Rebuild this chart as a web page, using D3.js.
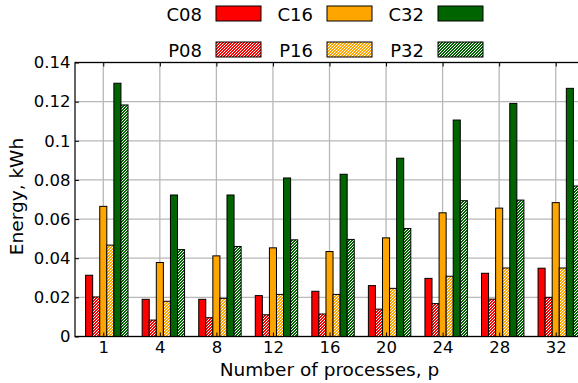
<!DOCTYPE html>
<html>
<head>
<meta charset="utf-8">
<script src="https://cdn.jsdelivr.net/npm/d3@7"></script>
<style>
  html, body { margin: 0; padding: 0; background: #fff; }
  svg { display: block; font-family: "DejaVu Sans", sans-serif; }
</style>
</head>
<body>
<svg id="chart" width="578" height="383"></svg>
<script>
// Number of processes (x categories)
const processes = ["1", "4", "8", "12", "16", "20", "24", "28", "32"];

// Energy per configuration, kWh
const C08 = [0.0313, 0.0190, 0.0190, 0.0209, 0.0231, 0.0260, 0.0297, 0.0323, 0.0349];
const P08 = [0.0202, 0.0084, 0.0096, 0.0111, 0.0115, 0.0140, 0.0168, 0.0191, 0.0200];
const C16 = [0.0665, 0.0378, 0.0412, 0.0453, 0.0434, 0.0504, 0.0632, 0.0656, 0.0684];
const P16 = [0.0467, 0.0180, 0.0195, 0.0215, 0.0215, 0.0246, 0.0308, 0.0350, 0.0350];
const C32 = [0.1294, 0.0723, 0.0723, 0.0810, 0.0829, 0.0911, 0.1106, 0.1191, 0.1268];
const P32 = [0.1183, 0.0444, 0.0460, 0.0494, 0.0496, 0.0552, 0.0694, 0.0697, 0.0769];

const yTicks = [0, 0.02, 0.04, 0.06, 0.08, 0.1, 0.12, 0.14];
const yTickLabels = ["0", "0.02", "0.04", "0.06", "0.08", "0.1", "0.12", "0.14"];

const series = [
  { name: "C08", values: C08, color: "#ff0000", hatch: false },
  { name: "P08", values: P08, color: "#ff0000", hatch: true },
  { name: "C16", values: C16, color: "#ffa500", hatch: false },
  { name: "P16", values: P16, color: "#ffa500", hatch: true },
  { name: "C32", values: C32, color: "#006400", hatch: false },
  { name: "P32", values: P32, color: "#006400", hatch: true }
];

const svg = d3.select("#chart");
const plotLeft = 75, plotRight = 584, plotTop = 62.5, plotBottom = 336.5;

const x = d3.scalePoint().domain(processes).range([plotLeft, plotRight]).padding(0.5);
const y = d3.scaleLinear().domain([0, 0.14]).range([plotBottom, plotTop]);
const barW = x.step() / 8;

// Hatch patterns for the P* series
const defs = svg.append("defs");
series.filter(s => s.hatch).forEach(s => {
  const p = defs.append("pattern")
    .attr("id", "hatch-" + s.name)
    .attr("patternUnits", "userSpaceOnUse")
    .attr("width", 3).attr("height", 3);
  p.append("rect").attr("width", 3).attr("height", 3).attr("fill", s.color);
  p.append("path")
    .attr("d", "M-1,1 L1,-1 M0,3 L3,0 M2,4 L4,2")
    .attr("stroke", "#fff").attr("stroke-width", 1.0);
});
const fillOf = s => s.hatch ? `url(#hatch-${s.name})` : s.color;

// Grid
const grid = svg.append("g");
grid.selectAll("line.gy").data(yTicks).join("line")
  .attr("x1", plotLeft).attr("x2", plotRight)
  .attr("y1", d => y(d)).attr("y2", d => y(d))
  .attr("stroke", "#b8b8b8").attr("stroke-width", 1.3);
grid.selectAll("line.gx").data(processes).join("line")
  .attr("x1", d => x(d)).attr("x2", d => x(d))
  .attr("y1", plotTop).attr("y2", plotBottom)
  .attr("stroke", "#b8b8b8").attr("stroke-width", 1.3);

// Bars
series.forEach((s, i) => {
  svg.append("g").selectAll("rect").data(s.values).join("rect")
    .attr("x", (d, j) => x(processes[j]) + (i - 2.5) * barW)
    .attr("y", d => y(d))
    .attr("width", barW)
    .attr("height", d => y(0) - y(d))
    .attr("fill", fillOf(s))
    .attr("stroke", "#000").attr("stroke-width", 1);
});

// Axes frame
svg.append("rect")
  .attr("x", plotLeft).attr("y", plotTop)
  .attr("width", plotRight - plotLeft).attr("height", plotBottom - plotTop)
  .attr("fill", "none").attr("stroke", "#000").attr("stroke-width", 1.2);

// Inward ticks
const yAxis = d3.axisLeft(y).tickValues(yTicks)
  .tickFormat((d, i) => yTickLabels[i]).tickSizeInner(-4).tickSizeOuter(0).tickPadding(4.5);
const gy = svg.append("g").attr("transform", `translate(${plotLeft},0)`).call(yAxis);
gy.select(".domain").remove();
gy.selectAll("text").attr("font-size", 16.5).attr("fill", "#000")
  .attr("font-family", "DejaVu Sans, sans-serif");

const xAxis = d3.axisBottom(x).tickSizeInner(-4).tickSizeOuter(0).tickPadding(4.5);
const gx = svg.append("g").attr("transform", `translate(0,${plotBottom})`).call(xAxis);
gx.select(".domain").remove();
gx.selectAll("text").attr("font-size", 16.5).attr("fill", "#000")
  .attr("font-family", "DejaVu Sans, sans-serif");

const xTop = d3.axisTop(x).tickSizeInner(-4).tickSizeOuter(0).tickFormat("");
const gxt = svg.append("g").attr("transform", `translate(0,${plotTop})`).call(xTop);
gxt.select(".domain").remove();

// Axis titles
svg.append("text")
  .attr("x", (plotLeft + plotRight) / 2).attr("y", 375.5)
  .attr("text-anchor", "middle").attr("font-size", 18.5)
  .text("Number of processes, p");
svg.append("text")
  .attr("transform", `translate(23,${(plotTop + plotBottom) / 2 - 3}) rotate(-90)`)
  .attr("text-anchor", "middle").attr("font-size", 18.5)
  .text("Energy, kWh");

// Legend: two rows (C*, P*) by three columns
const legCols = [202, 313, 424];
const legRows = [20.5, 56.5];
series.forEach((s, i) => {
  const col = Math.floor(i / 2), row = i % 2;
  const g = svg.append("g");
  g.append("text")
    .attr("x", legCols[col]).attr("y", legRows[row])
    .attr("text-anchor", "end").attr("font-size", 18)
    .text(s.name);
  g.append("rect")
    .attr("x", legCols[col] + 14).attr("y", legRows[row] - 14.5)
    .attr("width", 45).attr("height", 15)
    .attr("fill", fillOf(s))
    .attr("stroke", "#000").attr("stroke-width", 1);
});
</script>
</body>
</html>
